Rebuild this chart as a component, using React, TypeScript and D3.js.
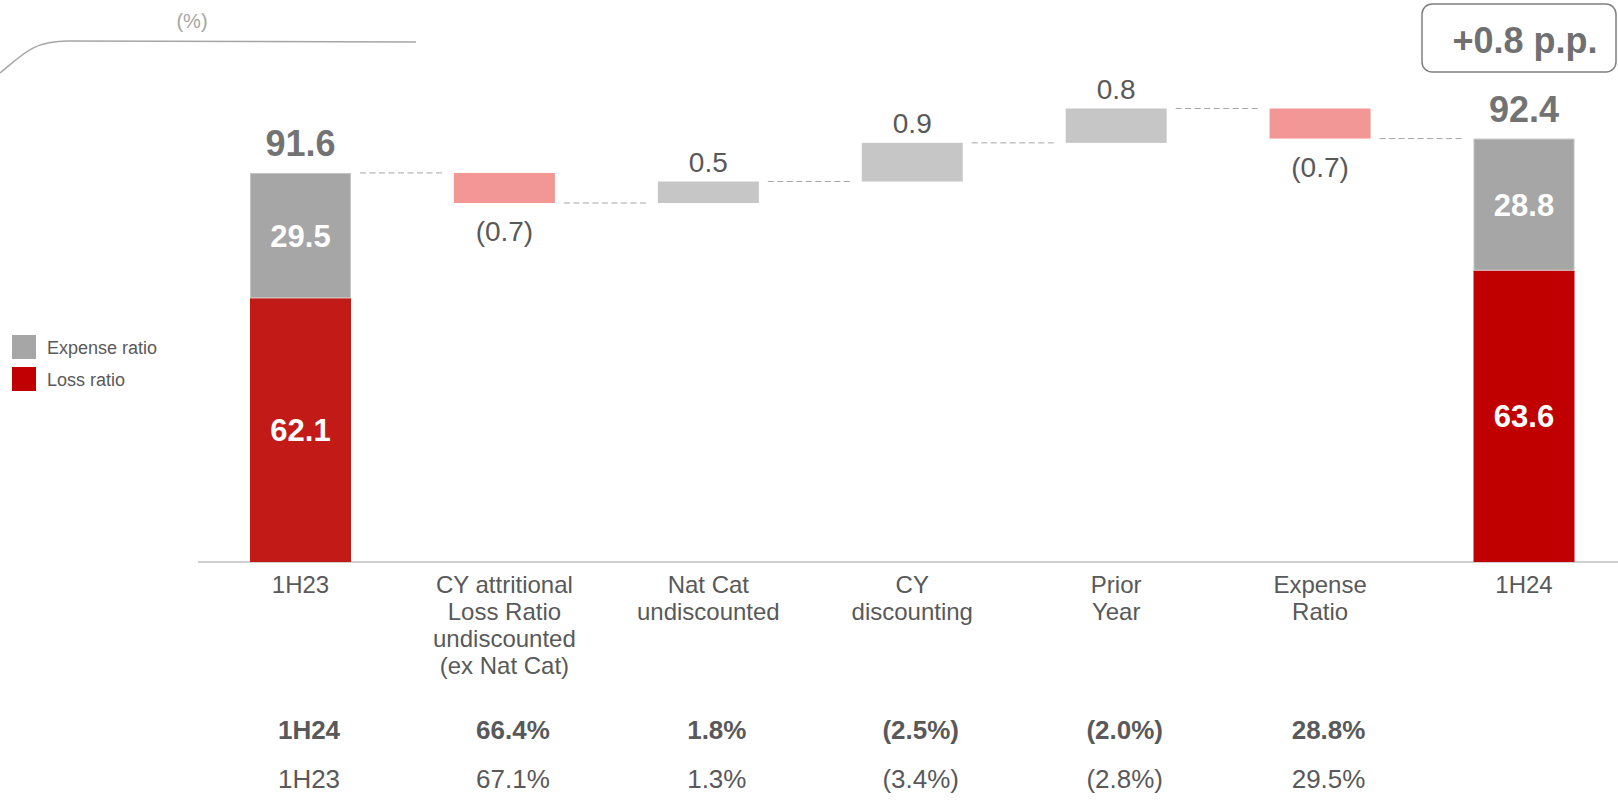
import React from "react";
import * as d3 from "d3";

// ---------- data ----------
const categories = ["1H23", "CY attritional", "Nat Cat", "CY discounting", "Prior Year", "Expense Ratio", "1H24"];
const categoryLines = [
  ["1H23"],
  ["CY attritional", "Loss Ratio", "undiscounted", "(ex Nat Cat)"],
  ["Nat Cat", "undiscounted"],
  ["CY", "discounting"],
  ["Prior", "Year"],
  ["Expense", "Ratio"],
  ["1H24"],
];
const startLoss = 62.1;
const startExpense = 29.5;
const endLoss = 63.6;
const endExpense = 28.8;
const totalLabels = ["91.6", "92.4"];
const stepValues = [-0.7, 0.5, 0.9, 0.8, -0.7];
const stepLabels = ["(0.7)", "0.5", "0.9", "0.8", "(0.7)"];
const tableHeader = ["1H24", "66.4%", "1.8%", "(2.5%)", "(2.0%)", "28.8%"];
const tableRow = ["1H23", "67.1%", "1.3%", "(3.4%)", "(2.8%)", "29.5%"];
const legendItems = ["Expense ratio", "Loss ratio"];
const deltaLabel = "+0.8 p.p.";
const unitLabel = "(%)";

const FONT = "'Liberation Sans', Arial, Helvetica, sans-serif";
const TXT = "#595959";

export default function App() {
  const W = 1618;
  const H = 808;
  const baseY = 562;
  const barW = 101;

  const x = d3.scalePoint<string>().domain(categories).range([300.5, 1524]);
  // step (waterfall) region scale – chart is non-proportional in the top band
  const yStep = d3.scaleLinear().domain([90.9, 93.1]).range([203, 108.5]);

  const startTotal = +(startLoss + startExpense).toFixed(1);
  const endTotal = +(endLoss + endExpense).toFixed(1);

  let level = startTotal;
  const steps = stepValues.map((v, i) => {
    const from = level;
    const to = +(level + v).toFixed(1);
    level = to;
    return { cat: categories[i + 1], from, to, v, label: stepLabels[i] };
  });

  const stacks = [
    { cat: categories[0], loss: startLoss, exp: startExpense, total: startTotal, label: totalLabels[0], lossColor: "#c21a16" },
    { cat: categories[6], loss: endLoss, exp: endExpense, total: endTotal, label: totalLabels[1], lossColor: "#c00000" },
  ];

  const levels = [startTotal, ...steps.map((s) => s.to)];

  return (
    <svg width={W} height={H} style={{ position: "absolute", left: 0, top: 0, background: "#fff" }} fontFamily={FONT}>
      {/* header decoration */}
      <path d="M0,73 C24,53 34,41 68,41 L416,42" fill="none" stroke="#a6a6a6" strokeWidth={1.5} />
      <text x={192} y={28} fontSize={20} fill="#a6a6a6" textAnchor="middle">{unitLabel}</text>

      {/* delta box */}
      <rect x={1422} y={4} width={194} height={68} rx={10} fill="none" stroke="#7f7f7f" strokeWidth={1.5} />
      <text x={1525} y={53} fontSize={36} fontWeight="bold" fill="#707070" textAnchor="middle">{deltaLabel}</text>

      {/* legend */}
      <rect x={12} y={335} width={24} height={24} fill="#a6a6a6" />
      <rect x={12} y={367} width={24} height={24} fill="#c00000" />
      <text x={47} y={354} fontSize={18} fill={TXT}>{legendItems[0]}</text>
      <text x={47} y={386} fontSize={18} fill={TXT}>{legendItems[1]}</text>

      {/* axis */}
      <line x1={198} x2={1618} y1={baseY} y2={baseY} stroke="#d0d0d0" strokeWidth={2} />

      {/* connectors */}
      {levels.map((lv, i) => {
        const x1 = (x(categories[i]) as number) + barW / 2 + 9;
        const x2 = (x(categories[i + 1]) as number) - barW / 2 - 11;
        const yy = yStep(lv);
        return (
          <line key={"c" + i} x1={x1} x2={x2} y1={yy} y2={yy} stroke="#a6a6a6" strokeWidth={1} strokeDasharray="6,3.5" />
        );
      })}

      {/* stacked total bars */}
      {stacks.map((s) => {
        const cx = x(s.cat) as number;
        const ys = d3.scaleLinear().domain([0, s.total]).range([baseY, yStep(s.total)]);
        return (
          <g key={s.cat}>
            <rect x={cx - barW / 2} y={ys(s.loss)} width={barW} height={ys(0) - ys(s.loss)} fill={s.lossColor} />
            <rect x={cx - barW / 2 + 0.5} y={ys(s.total) + 0.5} width={barW - 1} height={ys(s.loss) - ys(s.total) - 1} fill="#a6a6a6" stroke="#c4c4c4" strokeWidth={1} />
            <text x={cx} y={(ys(s.loss) + ys(s.total)) / 2} dy="0.36em" fontSize={31} fontWeight="bold" fill="#fff" textAnchor="middle">
              {s.exp.toFixed(1)}
            </text>
            <text x={cx} y={(ys(0) + ys(s.loss)) / 2} dy="0.36em" fontSize={31} fontWeight="bold" fill="#fff" textAnchor="middle">
              {s.loss.toFixed(1)}
            </text>
            <text x={cx} y={ys(s.total) - 17} fontSize={36} fontWeight="bold" fill="#737373" textAnchor="middle">
              {s.label}
            </text>
          </g>
        );
      })}

      {/* step bars */}
      {steps.map((s) => {
        const cx = x(s.cat) as number;
        const top = yStep(Math.max(s.from, s.to));
        const bot = yStep(Math.min(s.from, s.to));
        const neg = s.v < 0;
        return (
          <g key={s.cat}>
            <rect x={cx - barW / 2} y={top} width={barW} height={bot - top} fill={neg ? "#f29796" : "#c6c6c6"} />
            <text x={cx} y={neg ? bot + 38 : top - 10} fontSize={28} fill={TXT} textAnchor="middle">
              {s.label}
            </text>
          </g>
        );
      })}

      {/* category labels */}
      {categoryLines.map((lines, i) => (
        <text key={"cat" + i} x={x(categories[i]) as number} y={593} fontSize={24} fill={TXT} textAnchor="middle">
          {lines.map((l, j) => (
            <tspan key={j} x={x(categories[i]) as number} y={593 + j * 27}>{l}</tspan>
          ))}
        </text>
      ))}

      {/* table */}
      {tableHeader.map((t, i) => (
        <text key={"th" + i} x={(x(categories[i]) as number) + 8.5} y={739} fontSize={26} fontWeight="bold" fill={TXT} textAnchor="middle">
          {t}
        </text>
      ))}
      {tableRow.map((t, i) => (
        <text key={"tr" + i} x={(x(categories[i]) as number) + 8.5} y={788} fontSize={26} fill={TXT} textAnchor="middle">
          {t}
        </text>
      ))}
    </svg>
  );
}
